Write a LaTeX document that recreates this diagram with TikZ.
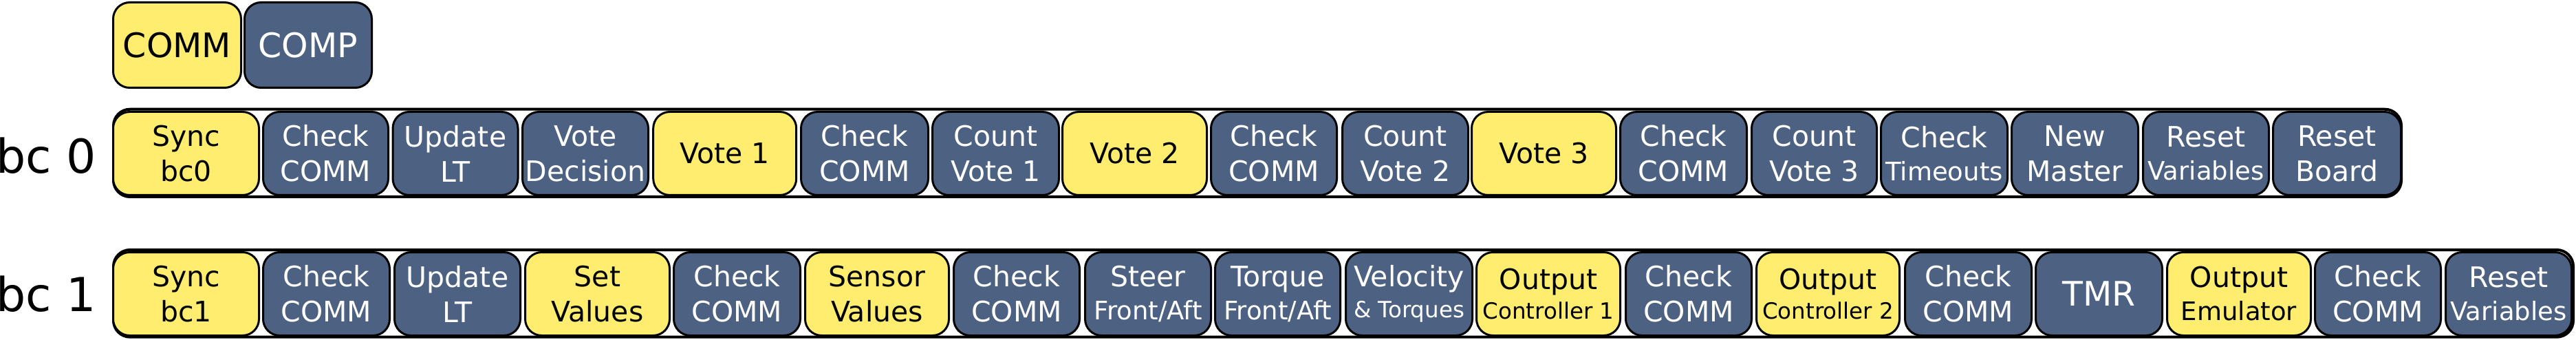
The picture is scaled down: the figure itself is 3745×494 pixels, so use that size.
\documentclass[tikz,border=0pt]{standalone}
\usepackage{fontspec}
\setmainfont{DejaVu Sans}
\definecolor{byel}{RGB}{255,237,111}
\definecolor{bblu}{RGB}{77,98,130}
\newcommand\smfont{\fontsize{37}{46}\selectfont}
\newcommand\tnfont{\fontsize{32.5}{40}\selectfont}
\newcommand\bigfont{\fontsize{49}{60}\selectfont}
\tikzset{
  box/.style={draw=black, line width=3pt, rounded corners=24pt, inner sep=0pt,
    minimum height=121pt, align=center, font=\fontsize{41}{51}\selectfont},
  yel/.style={box, fill=byel, text=black},
  blu/.style={box, fill=bblu, text=white},
  frame/.style={draw=black, line width=4pt, fill=white, rounded corners=24pt},
  rowlabel/.style={inner sep=0pt, anchor=base west, font=\fontsize{68}{80}\selectfont}
}
\begin{document}
\begin{tikzpicture}[x=1pt,y=-1pt]
\useasboundingbox (0,0) rectangle (3745,494);
% top legend
\node[yel, minimum width=186pt, minimum height=124pt, font=\bigfont] (comm) at (257.5,65.5) {COMM};
\node[blu, minimum width=185pt, minimum height=124pt, font=\bigfont] (comp) at (448,65.5) {COMP};
% row labels
\node[rowlabel] (l0) at (-6,252) {bc 0};
\node[rowlabel] (l1) at (-6,452) {bc 1};
% frames
\draw[frame] (165,158.7) rectangle (3491,286);
\draw[frame] (165,363) rectangle (3741,489.7);
% bc 0
\node[yel, minimum width=212pt] (a1) at (270.5,223) {Sync\\bc0};
\node[blu, minimum width=182pt] (a2) at (473.5,223) {Check\\COMM};
\node[blu, minimum width=182pt] (a3) at (662,223) {Update\\LT};
\node[blu, minimum width=183pt] (a4) at (851,223) {Vote\\Decision};
\node[yel, minimum width=208pt] (a5) at (1053.7,223) {Vote 1};
\node[blu, minimum width=185pt] (a6) at (1257,223) {Check\\COMM};
\node[blu, minimum width=184pt] (a7) at (1447.5,223) {Count\\Vote 1};
\node[yel, minimum width=210pt] (a8) at (1649.5,223) {Vote 2};
\node[blu, minimum width=183pt] (a9) at (1852,223) {Check\\COMM};
\node[blu, minimum width=183pt] (a10) at (2043,223) {Count\\Vote 2};
\node[yel, minimum width=210pt] (a11) at (2244.5,223) {Vote 3};
\node[blu, minimum width=184pt] (a12) at (2447.5,223) {Check\\COMM};
\node[blu, minimum width=182pt] (a13) at (2637.5,223) {Count\\Vote 3};
\node[blu, minimum width=184pt] (a14) at (2826.5,223) {Check\\[-3pt]{\smfont Timeouts}};
\node[blu, minimum width=184pt] (a15) at (3016.5,223) {New\\Master};
\node[blu, minimum width=183pt] (a16) at (3207,223) {Reset\\[-3pt]{\smfont Variables}};
\node[blu, minimum width=186pt] (a17) at (3397.5,223) {Reset\\Board};
% bc 1
\node[yel, minimum width=212pt] (b1) at (270.5,427) {Sync\\bc1};
\node[blu, minimum width=184pt] (b2) at (474.5,427) {Check\\COMM};
\node[blu, minimum width=183pt] (b3) at (665,427) {Update\\LT};
\node[yel, minimum width=210pt] (b4) at (868.5,427) {Set\\Values};
\node[blu, minimum width=184pt] (b5) at (1071.5,427) {Check\\COMM};
\node[yel, minimum width=209pt] (b6) at (1275,427) {Sensor\\Values};
\node[blu, minimum width=183pt] (b7) at (1478,427) {Check\\COMM};
\node[blu, minimum width=183pt] (b8) at (1669,427) {Steer\\[-3pt]{\smfont Front/Aft}};
\node[blu, minimum width=182pt] (b9) at (1857.5,427) {Torque\\[-3pt]{\smfont Front/Aft}};
\node[blu, minimum width=184pt] (b10) at (2048.5,427) {Velocity\\[-6pt]{\tnfont \& Torques}};
\node[yel, minimum width=209pt] (b11) at (2251,427) {Output\\[-8pt]{\tnfont Controller 1}};
\node[blu, minimum width=183pt] (b12) at (2455,427) {Check\\COMM};
\node[yel, minimum width=208pt] (b13) at (2657.5,427) {Output\\[-8pt]{\tnfont Controller 2}};
\node[blu, minimum width=184pt] (b14) at (2861.5,427) {Check\\COMM};
\node[blu, minimum width=184pt, font=\bigfont] (b15) at (3051.5,427) {TMR};
\node[yel, minimum width=209pt] (b16) at (3255,427) {Output\\[-3pt]{\smfont Emulator}};
\node[blu, minimum width=183pt] (b17) at (3457,427) {Check\\COMM};
\node[blu, minimum width=183pt] (b18) at (3647,427) {Reset\\[-3pt]{\smfont Variables}};
\end{tikzpicture}
\end{document}
